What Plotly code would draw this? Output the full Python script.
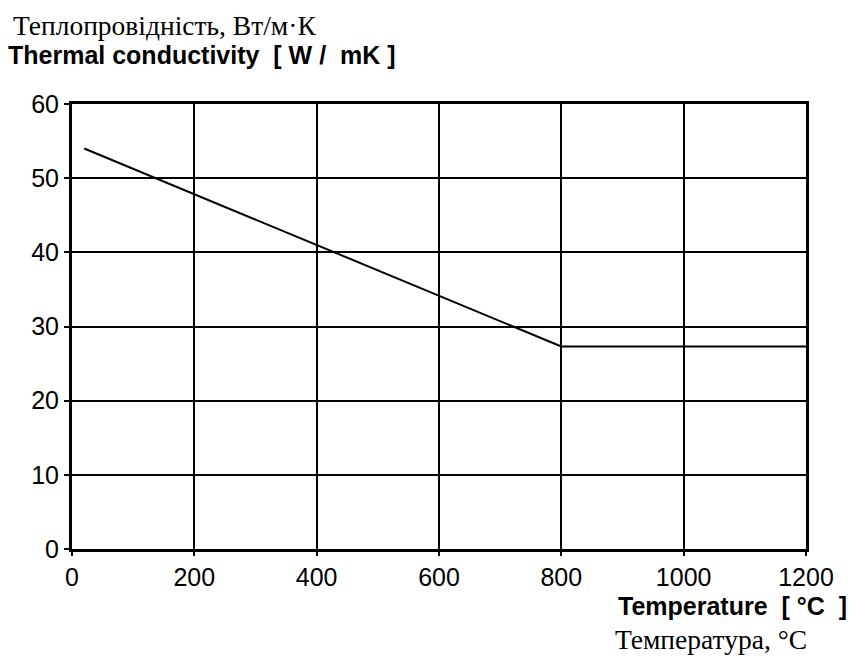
import plotly.graph_objects as go

temperature = [20, 800, 1200]
conductivity = [54.0, 27.3, 27.3]
x_ticks = [0, 200, 400, 600, 800, 1000, 1200]
y_ticks = [0, 10, 20, 30, 40, 50, 60]

W, H = 849, 659
L, R, T, B = 72, 43, 104, 110
pw, ph = W - L - R, H - T - B

def px(x):
    return (x - L) / pw

def py(y):
    return (H - B - y) / ph

fig = go.Figure()
fig.add_trace(go.Scatter(x=temperature, y=conductivity, mode="lines",
                         line=dict(color="black", width=2), showlegend=False))

tickfont = dict(family="Liberation Sans, Arial", size=25, color="black")
common = dict(ticks="outside", tickwidth=2, tickcolor="black",
              showgrid=True, gridcolor="black", gridwidth=2,
              showline=True, linecolor="black", linewidth=3, mirror=True,
              zeroline=False, tickfont=tickfont, fixedrange=True)
fig.update_layout(
    width=W, height=H,
    margin=dict(l=L, r=R, t=T, b=B, pad=0),
    plot_bgcolor="white", paper_bgcolor="white",
    xaxis=dict(range=[0, 1200], tickvals=x_ticks, ticklen=4, **common),
    yaxis=dict(range=[0, 60], tickvals=y_ticks, ticklen=5, **common),
    annotations=[
        dict(text="Теплопровідність, Вт/м·К", xref="paper", yref="paper",
             x=px(11), y=py(25), xanchor="left", yanchor="middle", showarrow=False,
             font=dict(family="Liberation Serif, Times New Roman", size=27.5, color="black")),
        dict(text="<b>Thermal conductivity  [ W /  mK ]</b>", xref="paper", yref="paper",
             x=px(6), y=py(55), xanchor="left", yanchor="middle", showarrow=False,
             font=dict(family="Liberation Sans, Arial", size=25, color="black")),
        dict(text="<b>Temperature  [ °C  ]</b>", xref="paper", yref="paper",
             x=px(616), y=py(606), xanchor="left", yanchor="middle", showarrow=False,
             font=dict(family="Liberation Sans, Arial", size=25, color="black")),
        dict(text="Температура, °C", xref="paper", yref="paper",
             x=px(613), y=py(639), xanchor="left", yanchor="middle", showarrow=False,
             font=dict(family="Liberation Serif, Times New Roman", size=27.5, color="black")),
    ],
)
fig.write_html("out.html")
